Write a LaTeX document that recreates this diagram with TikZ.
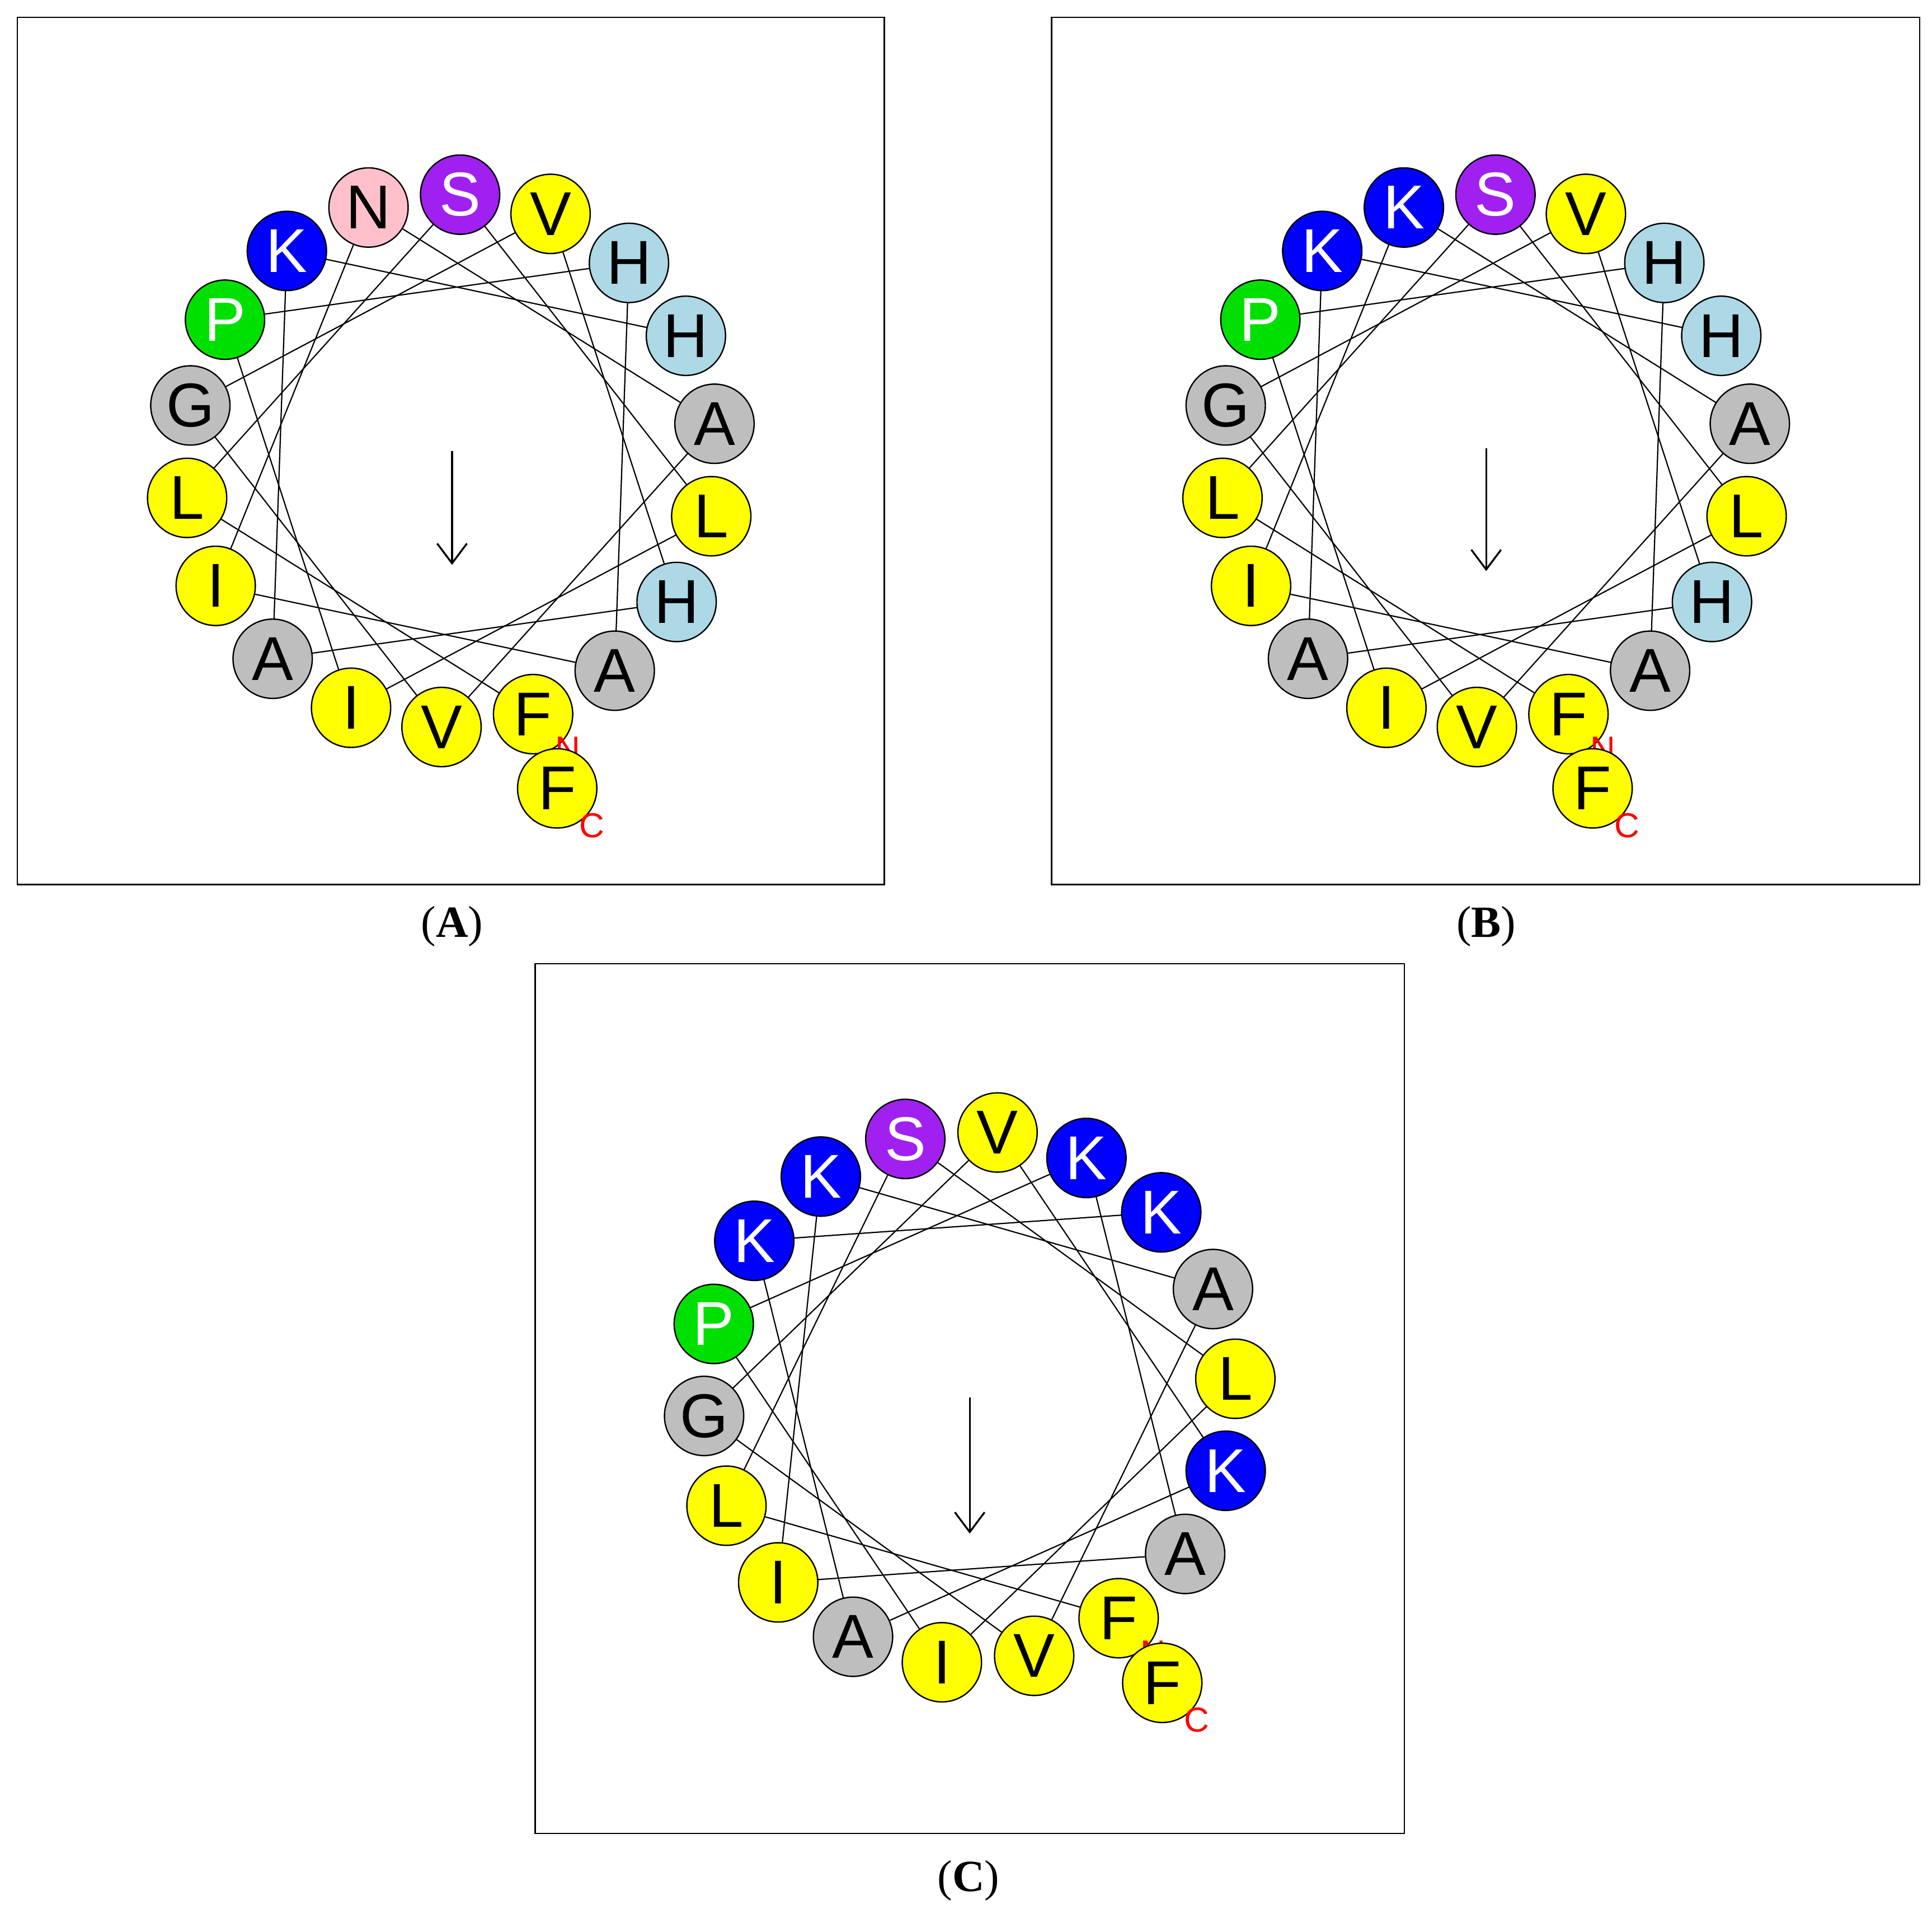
\documentclass[tikz,border=0pt]{standalone}
\usepackage{fontspec}
\setmainfont{Liberation Serif}
\newfontfamily\arial{Liberation Sans}
\usetikzlibrary{calc,backgrounds,arrows.meta}
\definecolor{cY}{HTML}{FFFF00}
\definecolor{cG}{HTML}{BEBEBE}
\definecolor{cLB}{HTML}{ADD8E6}
\definecolor{cB}{HTML}{0000FF}
\definecolor{cP}{HTML}{A020F0}
\definecolor{cPk}{HTML}{FFC0CB}
\definecolor{cGr}{HTML}{00E000}
\tikzset{
  res/.style={circle,draw=black,line width=1.1pt,minimum size=64pt,inner sep=0pt,
    font=\arial\fontsize{50}{50}\selectfont},
  link/.style={line width=1pt,black},
  tlabel/.style={text=red,font=\arial\fontsize{28}{28}\selectfont,inner sep=0pt},
  frame/.style={line width=1.2pt},
  plabel/.style={font=\fontsize{36}{36}\selectfont},
  moment/.style={line width=1.5pt,-{Straight Barb[length=16pt,width=24pt,line width=1.5pt]}}
}
\newcommand\wheel[5]{%
  \foreach \k/\l/\c/\t in {#5}{%
    \node[res,fill=\c,text=\t] (#4\k) at ($(#1,#2)+(#3+20*\k:215)$) {\l};
  }
  \begin{scope}[on background layer]
    \foreach \a/\b in {0/13,13/8,8/3,3/16,16/11,11/6,6/1,1/14,14/9,9/4,4/17,17/12,12/7,7/2,2/15,15/10,10/5}
      \draw[link] (#4\a.center) -- (#4\b.center);
  \end{scope}
  \node[tlabel] (#4N) at ($(#40)+(28,-28)$) {N};
  \node[res,fill=cY] (#4o) at ($(#1,#2)+(#3:278)$) {F};
  \node[tlabel] (#4C) at ($(#4o)+(28,-30)$) {C};
}
\begin{document}
\begin{tikzpicture}[x=1pt,y=1pt]
\useasboundingbox (0,0) rectangle (1560,-1541);
% frames
\draw[frame] (14,-14) rectangle (714,-714);
\draw[frame] (849,-14) rectangle (1550,-714);
\draw[frame] (432,-778) rectangle (1134,-1480);
% panel A
\wheel{364}{-372}{-72}{a}{0/F/cY/black,1/A/cG/black,2/H/cLB/black,3/L/cY/black,4/A/cG/black,5/H/cLB/black,6/H/cLB/black,7/V/cY/black,8/S/cP/white,9/N/cPk/black,10/K/cB/white,11/P/cGr/white,12/G/cG/black,13/L/cY/black,14/I/cY/black,15/A/cG/black,16/I/cY/black,17/V/cY/black}
% panel B
\wheel{1200}{-372}{-72}{b}{0/F/cY/black,1/A/cG/black,2/H/cLB/black,3/L/cY/black,4/A/cG/black,5/H/cLB/black,6/H/cLB/black,7/V/cY/black,8/S/cP/white,9/K/cB/white,10/K/cB/white,11/P/cGr/white,12/G/cG/black,13/L/cY/black,14/I/cY/black,15/A/cG/black,16/I/cY/black,17/V/cY/black}
% panel C
\wheel{783}{-1128}{-56}{c}{0/F/cY/black,1/A/cG/black,2/K/cB/white,3/L/cY/black,4/A/cG/black,5/K/cB/white,6/K/cB/white,7/V/cY/black,8/S/cP/white,9/K/cB/white,10/K/cB/white,11/P/cGr/white,12/G/cG/black,13/L/cY/black,14/I/cY/black,15/A/cG/black,16/I/cY/black,17/V/cY/black}
% hydrophobic moment arrows
\coordinate (as) at (365,-364); \coordinate (ae) at (365,-456);
\coordinate (bs) at (1200,-362); \coordinate (be) at (1200,-461);
\coordinate (cs) at (783,-1128); \coordinate (ce) at (783,-1238);
\draw[moment] (as) -- (ae);
\draw[moment] (bs) -- (be);
\draw[moment] (cs) -- (ce);
% panel labels
\node[plabel] (la) at (365,-748) {(\textbf{A})};
\node[plabel] (lb) at (1200,-748) {(\textbf{B})};
\node[plabel] (lc) at (782,-1518) {(\textbf{C})};
\end{tikzpicture}
\end{document}
